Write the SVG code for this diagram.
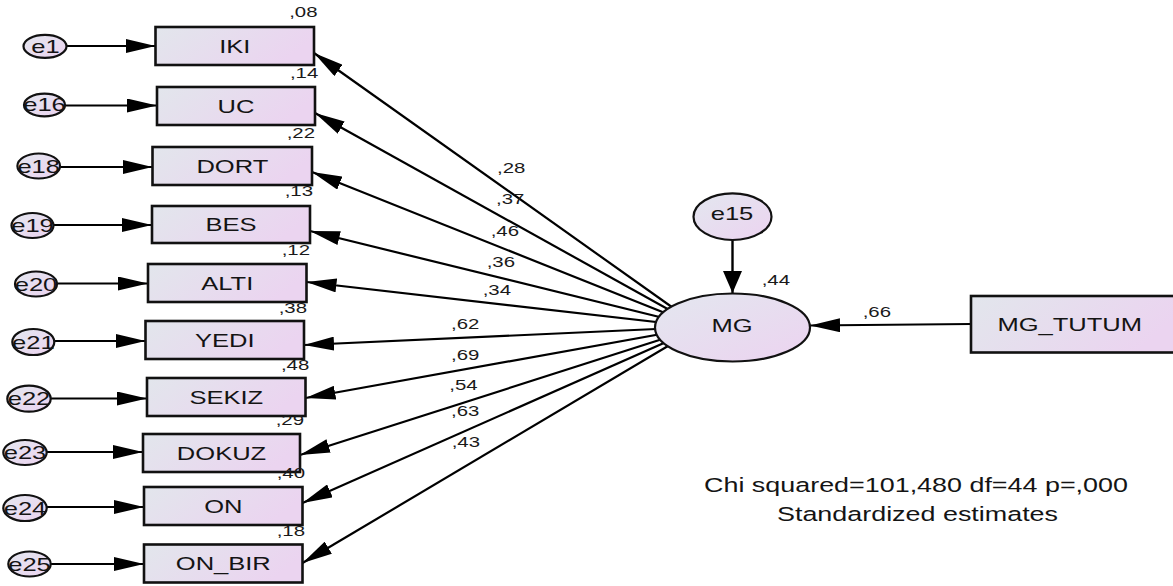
<svg xmlns="http://www.w3.org/2000/svg" width="1173" height="586" viewBox="0 0 1173 586">
<defs>
<linearGradient id="gb" x1="0" y1="0" x2="1" y2="0.3">
<stop offset="0" stop-color="#e2e6ec"/>
<stop offset="1" stop-color="#ebd4f0"/>
</linearGradient>
<linearGradient id="ge" x1="0" y1="0" x2="1" y2="1">
<stop offset="0" stop-color="#e3e7ef"/>
<stop offset="1" stop-color="#ecd3f0"/>
</linearGradient>
<marker id="ah" markerUnits="userSpaceOnUse" markerWidth="31" markerHeight="14" refX="30" refY="7" orient="auto">
<path d="M0,0 L30,7 L0,14 z" fill="#000"/>
</marker>
<marker id="av" markerUnits="userSpaceOnUse" markerWidth="23" markerHeight="19" refX="22" refY="9.5" orient="auto">
<path d="M0,0 L22,9.5 L0,19 z" fill="#000"/>
</marker>
<style>
.box{fill:url(#gb);stroke:#111;stroke-width:2.6}
.ell{fill:url(#ge);stroke:#111;stroke-width:2.2}
.ln{stroke:#000;stroke-width:2.2;fill:none;marker-end:url(#ah)}
.t{font-family:"Liberation Sans",Arial,sans-serif;font-size:18.5px;fill:#141414;text-anchor:middle}
.s{font-family:"Liberation Sans",Arial,sans-serif;font-size:15px;fill:#1a1a1a}
.e{text-anchor:end}
.c{font-family:"Liberation Sans",Arial,sans-serif;font-size:19.5px;fill:#141414;text-anchor:middle}
</style>
</defs>
<g id="connectors">
<line class="ln" x1="700" y1="327" x2="314" y2="53"/>
<line class="ln" x1="700" y1="327" x2="315" y2="113"/>
<line class="ln" x1="700" y1="327" x2="312" y2="172"/>
<line class="ln" x1="700" y1="327" x2="310" y2="231"/>
<line class="ln" x1="700" y1="327" x2="306.5" y2="282"/>
<line class="ln" x1="700" y1="327" x2="304" y2="345"/>
<line class="ln" x1="700" y1="327" x2="305.5" y2="398"/>
<line class="ln" x1="700" y1="327" x2="300" y2="455"/>
<line class="ln" x1="700" y1="327" x2="302.5" y2="503"/>
<line class="ln" x1="700" y1="327" x2="302.5" y2="563"/>
<line class="ln" x1="66.5" y1="46" x2="155.5" y2="46"/>
<line class="ln" x1="65" y1="105.5" x2="157" y2="105.5"/>
<line class="ln" x1="60" y1="167" x2="152.5" y2="167"/>
<line class="ln" x1="53.5" y1="225" x2="152" y2="225"/>
<line class="ln" x1="57" y1="283.5" x2="148" y2="283.5"/>
<line class="ln" x1="54.5" y1="341" x2="145.5" y2="341"/>
<line class="ln" x1="50.5" y1="398.5" x2="147" y2="398.5"/>
<line class="ln" x1="46.5" y1="452" x2="143" y2="452"/>
<line class="ln" x1="46.5" y1="507" x2="144" y2="507"/>
<line class="ln" x1="51" y1="564" x2="144" y2="564"/>
<line class="ln" x1="971" y1="324" x2="810" y2="325.5"/>
<line x1="732.5" y1="240" x2="732.5" y2="293" stroke="#000" stroke-width="2.4" marker-end="url(#av)"/>
</g>
<g id="labels-paths">
<text class="s" transform="translate(497,173.3) scale(1.36,1)">,28</text>
<text class="s" transform="translate(496,204) scale(1.36,1)">,37</text>
<text class="s" transform="translate(490.7,235.7) scale(1.36,1)">,46</text>
<text class="s" transform="translate(486.7,266.7) scale(1.36,1)">,36</text>
<text class="s" transform="translate(482.7,295) scale(1.36,1)">,34</text>
<text class="s" transform="translate(451,329.3) scale(1.36,1)">,62</text>
<text class="s" transform="translate(451,360) scale(1.36,1)">,69</text>
<text class="s" transform="translate(449.3,390) scale(1.36,1)">,54</text>
<text class="s" transform="translate(451,416) scale(1.36,1)">,63</text>
<text class="s" transform="translate(451.7,447.3) scale(1.36,1)">,43</text>
<text class="s" transform="translate(862.7,317.3) scale(1.36,1)">,66</text>
</g>
<g id="MG">
<ellipse class="ell" cx="732.5" cy="327.5" rx="77.5" ry="34"/>
<text class="t" transform="translate(732,331.5) scale(1.38,1)">MG</text>
<text class="s" transform="translate(761.7,285) scale(1.36,1)">,44</text>
</g>
<g id="e15">
<ellipse class="ell" cx="732.5" cy="216.7" rx="39" ry="23.3"/>
<text class="t" transform="translate(732,220) scale(1.38,1)">e15</text>
</g>
<g id="MG_TUTUM">
<rect class="box" x="971" y="296" width="210" height="56.5"/>
<text class="t" transform="translate(1069.7,330.7) scale(1.38,1)">MG_TUTUM</text>
</g>
<g id="IKI">
<rect class="box" x="155.5" y="27" width="158.5" height="38"/>
<text class="t" transform="translate(234.8,52.5) scale(1.38,1)">IKI</text>
<text class="s e" transform="translate(317.5,17.3) scale(1.36,1)">,08</text>
</g>
<g id="UC">
<rect class="box" x="157" y="87" width="158" height="38"/>
<text class="t" transform="translate(236,112.5) scale(1.38,1)">UC</text>
<text class="s e" transform="translate(318.3,78.3) scale(1.36,1)">,14</text>
</g>
<g id="DORT">
<rect class="box" x="152.5" y="147" width="159.5" height="38"/>
<text class="t" transform="translate(232.3,172.5) scale(1.38,1)">DORT</text>
<text class="s e" transform="translate(315,138.3) scale(1.36,1)">,22</text>
</g>
<g id="BES">
<rect class="box" x="152" y="206" width="158" height="37"/>
<text class="t" transform="translate(231,231) scale(1.38,1)">BES</text>
<text class="s e" transform="translate(313,196) scale(1.36,1)">,13</text>
</g>
<g id="ALTI">
<rect class="box" x="148" y="264" width="158.5" height="38"/>
<text class="t" transform="translate(227.3,289.5) scale(1.38,1)">ALTI</text>
<text class="s e" transform="translate(310,255) scale(1.36,1)">,12</text>
</g>
<g id="YEDI">
<rect class="box" x="145.5" y="321" width="158.5" height="38"/>
<text class="t" transform="translate(224.8,346.5) scale(1.38,1)">YEDI</text>
<text class="s e" transform="translate(307,312.7) scale(1.36,1)">,38</text>
</g>
<g id="SEKIZ">
<rect class="box" x="147" y="378" width="158.5" height="38"/>
<text class="t" transform="translate(226.3,403.5) scale(1.38,1)">SEKIZ</text>
<text class="s e" transform="translate(309.3,370) scale(1.36,1)">,48</text>
</g>
<g id="DOKUZ">
<rect class="box" x="143" y="434" width="157" height="38"/>
<text class="t" transform="translate(221.5,459.5) scale(1.38,1)">DOKUZ</text>
<text class="s e" transform="translate(304,425) scale(1.36,1)">,29</text>
</g>
<g id="ON">
<rect class="box" x="144" y="487" width="158.5" height="38"/>
<text class="t" transform="translate(223.3,512.5) scale(1.38,1)">ON</text>
<text class="s e" transform="translate(305,478.3) scale(1.36,1)">,40</text>
</g>
<g id="ON_BIR">
<rect class="box" x="144" y="544.5" width="158.5" height="38"/>
<text class="t" transform="translate(223.3,570) scale(1.38,1)">ON_BIR</text>
<text class="s e" transform="translate(305,536) scale(1.36,1)">,18</text>
</g>
<g id="e1"><ellipse class="ell" cx="45" cy="46.3" rx="21.5" ry="11.5"/><text class="t" transform="translate(45.5,52.5) scale(1.38,1)">e1</text></g>
<g id="e16"><ellipse class="ell" cx="44.5" cy="105" rx="20.5" ry="11.3"/><text class="t" transform="translate(44.5,111.3) scale(1.38,1)">e16</text></g>
<g id="e18"><ellipse class="ell" cx="38.7" cy="166" rx="21.3" ry="12.5"/><text class="t" transform="translate(38.7,172.5) scale(1.38,1)">e18</text></g>
<g id="e19"><ellipse class="ell" cx="32.5" cy="225.5" rx="21" ry="12.5"/><text class="t" transform="translate(32.5,232) scale(1.38,1)">e19</text></g>
<g id="e20"><ellipse class="ell" cx="36" cy="284" rx="21" ry="12.5"/><text class="t" transform="translate(36,290.5) scale(1.38,1)">e20</text></g>
<g id="e21"><ellipse class="ell" cx="33.3" cy="342" rx="21" ry="13"/><text class="t" transform="translate(33.3,348.5) scale(1.38,1)">e21</text></g>
<g id="e22"><ellipse class="ell" cx="29" cy="398.7" rx="21.7" ry="13"/><text class="t" transform="translate(29,405.2) scale(1.38,1)">e22</text></g>
<g id="e23"><ellipse class="ell" cx="25" cy="452.5" rx="21.7" ry="12.5"/><text class="t" transform="translate(25,459) scale(1.38,1)">e23</text></g>
<g id="e24"><ellipse class="ell" cx="25" cy="508" rx="21.7" ry="13"/><text class="t" transform="translate(25,514.5) scale(1.38,1)">e24</text></g>
<g id="e25"><ellipse class="ell" cx="29.5" cy="564" rx="21.2" ry="12.5"/><text class="t" transform="translate(29.5,570.5) scale(1.38,1)">e25</text></g>
<g id="fit">
<text class="c" transform="translate(916,492.3) scale(1.38,1)">Chi squared=101,480 df=44 p=,000</text>
<text class="c" transform="translate(917.5,520.7) scale(1.38,1)">Standardized estimates</text>
</g>
</svg>
